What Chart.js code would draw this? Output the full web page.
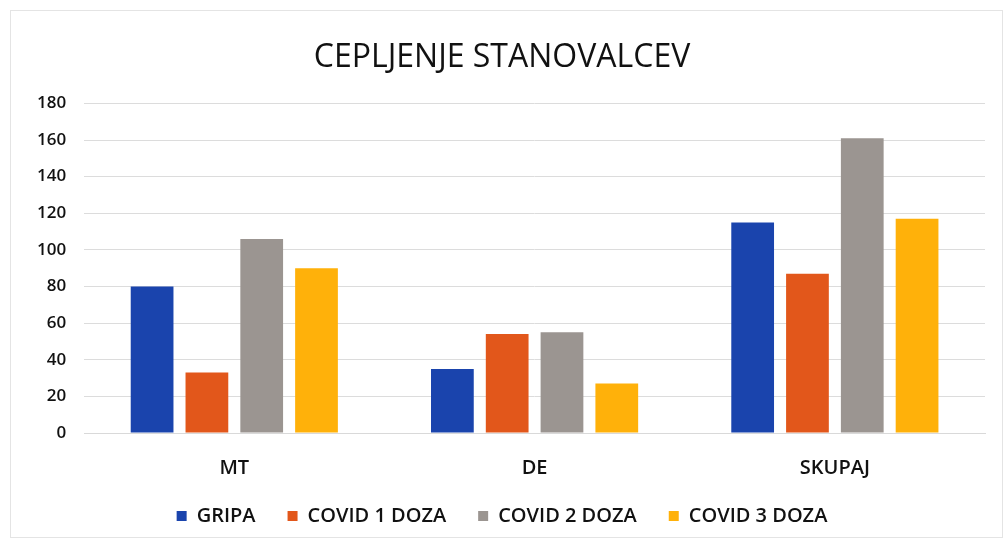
<!DOCTYPE html>
<html>
<head>
<meta charset="utf-8">
<script src="https://cdn.jsdelivr.net/npm/chart.js@4"></script>
<style>
    html, body { margin: 0; padding: 0; background: #fff; }
    #wrap { position: relative; width: 1006px; height: 542px; }
    #frame { position: absolute; left: 10px; top: 10px; right: 3px; bottom: 4px; border: 1px solid #e4e4e4; }
    canvas { position: absolute; left: 0; top: 0; }
</style>
</head>
<body>
<div id="wrap">
    <div id="frame"></div>
    <canvas id="vaccChart" width="1006" height="542"></canvas>
</div>
<script>
// data
const categories = ['MT', 'DE', 'SKUPAJ'];
const seriesNames = ['GRIPA', 'COVID 1 DOZA', 'COVID 2 DOZA', 'COVID 3 DOZA'];
const gripa = [80, 35, 115];
const covid1 = [33, 54, 87];
const covid2 = [106, 55, 161];
const covid3 = [90, 27, 117];
const yTicks = [0, 20, 40, 60, 80, 100, 120, 140, 160, 180];

const colors = ['#1a44ad', '#e2571b', '#9b9591', '#ffb10a'];
const fontFamily = '"Open Sans", Lato, sans-serif';

const seriesValues = [gripa, covid1, covid2, covid3];

// x labels sit lower than the squeezed axis box, so let them draw past it
const labelRoom = {
    id: 'labelRoom',
    afterLayout(chart) {
        chart.scales.x.bottom += 14;
    }
};

const ctx = document.getElementById('vaccChart');
new Chart(ctx, {
    type: 'bar',
    data: {
        labels: categories,
        datasets: seriesNames.map((name, i) => ({
            label: name,
            data: seriesValues[i],
            backgroundColor: colors[i],
            borderWidth: 0,
            categoryPercentage: 0.73,
            barPercentage: 0.78
        }))
    },
    options: {
        responsive: false,
        animation: false,
        layout: {
            padding: { left: 19, right: 21, top: 0, bottom: 6 }
        },
        plugins: {
            title: {
                display: true,
                text: 'CEPLJENJE STANOVALCEV',
                color: '#111',
                font: { family: fontFamily, size: 32, weight: 'normal' },
                padding: { top: 39, bottom: 26 }
            },
            legend: {
                position: 'bottom',
                labels: {
                    color: '#111',
                    font: { family: fontFamily, size: 20, weight: 600 },
                    boxWidth: 10,
                    boxHeight: 10,
                    padding: 32
                }
            },
            tooltip: { enabled: false }
        },
        scales: {
            x: {
                grid: { display: false },
                border: { display: true, color: '#d9d9d9' },
                afterFit: (axis) => {
                    axis.height -= 21;
                },
                ticks: {
                    color: '#111',
                    font: { family: fontFamily, size: 20, weight: 600 },
                    padding: 15
                }
            },
            y: {
                min: 0,
                max: 180,
                afterBuildTicks: (axis) => {
                    axis.ticks = yTicks.map(v => ({ value: v }));
                },
                grid: { color: '#dcdcdc', drawTicks: false },
                border: { display: false },
                ticks: {
                    color: '#111',
                    font: { family: fontFamily, size: 17, weight: 600 },
                    padding: 18
                }
            }
        }
    },
    plugins: [labelRoom]
});
</script>
</body>
</html>
